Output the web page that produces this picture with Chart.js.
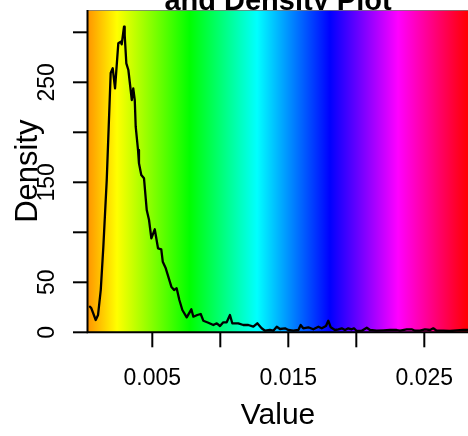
<!DOCTYPE html>
<html><head><meta charset="utf-8">
<script src="https://cdn.jsdelivr.net/npm/chart.js@4"></script>
<style>html,body{margin:0;padding:0;background:#fff;}canvas{display:block;}</style>
</head><body>
<canvas id="c" width="468" height="436"></canvas>
<script>
// ---- data ----
const xValues = [0.00042,0.00052,0.00084,0.00101,0.00121,0.00140,0.00165,0.00194,0.00209,0.00226,0.00250,0.00268,0.00275,0.00292,0.00297,0.00309,0.00324,0.00341,0.00349,0.00360,0.00371,0.00378,0.00395,0.00402,0.00419,0.00439,0.00459,0.00476,0.00493,0.00518,0.00542,0.00566,0.00577,0.00599,0.00640,0.00660,0.00679,0.00699,0.00721,0.00753,0.00770,0.00787,0.00802,0.00831,0.00856,0.00875,0.00912,0.00949,0.00974,0.00998,0.01022,0.01047,0.01071,0.01088,0.01132,0.01169,0.01206,0.01243,0.01272,0.01304,0.01329,0.01365,0.01390,0.01415,0.01439,0.01476,0.01500,0.01537,0.01574,0.01591,0.01610,0.01647,0.01684,0.01721,0.01746,0.01777,0.01794,0.01812,0.01843,0.01868,0.01893,0.01917,0.01941,0.01966,0.01983,0.02003,0.02040,0.02077,0.02101,0.02150,0.02199,0.02248,0.02297,0.02321,0.02371,0.02407,0.02432,0.02468,0.02505,0.02542,0.02566,0.02591,0.02640,0.02689,0.02738,0.02787,0.02821];
const densityValues = [25.6,24,12.3,17.3,42.3,85.6,152.3,259.3,264,244,289,290.6,288,305.6,297.3,269,262.3,242.3,232.3,244,232.3,205.6,182.3,169,157.3,154,122.3,112.3,94,103,84,83,70.6,64,45.6,42.3,44,32.3,22.3,15,19,23,15.6,17.3,18.3,11.6,9.6,7.3,9,6.3,10,10,17.3,9,9,7.3,7.3,5.6,9,4,1.6,2.3,1.6,5.6,3.3,4,2.3,1.6,2.3,7.3,4,5,3,5.6,4,6.3,11.6,5,2.3,3,4,2.3,4,3,4,1.3,1.6,4.6,2.3,1.6,2,2.3,2.3,1.6,3,3,1.6,1.6,3,2.3,4,1.6,1.6,1.3,2,2.3,2.3];
const xTickValues = [0.005,0.010,0.015,0.020,0.025];
const xTickLabels = ['0.005','','0.015','','0.025'];
const yTickValues = [0,50,100,150,200,250,300];
const yTickLabels = ['0','50','','150','','250',''];
const titleText = 'and Density Plot';
const xAxisTitle = 'Value';
const yAxisTitle = 'Density';
const xRange = [0.000272, 0.028213];
const yRange = [0, 322.3];

const FONT = '"Liberation Sans", Arial, Helvetica, sans-serif';

const decorPlugin = {
  id: 'decor',
  beforeDraw(chart) {
    const ctx = chart.ctx, a = chart.chartArea;
    ctx.save();
    ctx.fillStyle = '#fff';
    ctx.fillRect(0, 0, chart.width, chart.height);
    // title (first line lies above the visible area)
    ctx.fillStyle = '#000';
    ctx.font = 'bold 29px ' + FONT;
    ctx.textAlign = 'center';
    ctx.textBaseline = 'alphabetic';
    ctx.fillText(titleText, (a.left + a.right) / 2, 9.5);
    // rainbow background
    const g = ctx.createLinearGradient(a.left, 0, a.right, 0);
    g.addColorStop(0, 'rgb(255,150,0)');
    g.addColorStop(0.0763, 'rgb(255,255,0)');
    g.addColorStop(0.268, 'rgb(0,255,0)');
    g.addColorStop(0.445, 'rgb(0,255,255)');
    g.addColorStop(0.637, 'rgb(0,0,255)');
    g.addColorStop(0.816, 'rgb(255,0,255)');
    g.addColorStop(1, 'rgb(255,0,0)');
    ctx.fillStyle = g;
    ctx.fillRect(a.left, a.top, a.right - a.left, a.bottom - a.top);
    // thin grey top edge
    ctx.fillStyle = 'rgba(120,120,120,0.8)';
    ctx.fillRect(a.left, a.top, a.right - a.left, 1);
    ctx.restore();
  },
  afterDraw(chart) {
    const ctx = chart.ctx, a = chart.chartArea;
    const xs = chart.scales.x, ys = chart.scales.y;
    ctx.save();
    ctx.strokeStyle = '#000';
    ctx.fillStyle = '#000';
    ctx.lineWidth = 2;
    ctx.lineCap = 'butt';
    // L box
    ctx.beginPath();
    ctx.moveTo(a.left - 0.5, a.top);
    ctx.lineTo(a.left - 0.5, a.bottom);
    ctx.lineTo(a.right, a.bottom);
    ctx.stroke();
    // x ticks
    ctx.font = '23px ' + FONT;
    ctx.textAlign = 'center';
    ctx.textBaseline = 'alphabetic';
    xTickValues.forEach((v, i) => {
      const px = xs.getPixelForValue(v);
      ctx.beginPath();
      ctx.moveTo(px, a.bottom);
      ctx.lineTo(px, a.bottom + 15);
      ctx.stroke();
      if (xTickLabels[i]) ctx.fillText(xTickLabels[i], px, a.bottom + 52.5);
    });
    // y ticks
    yTickValues.forEach((v, i) => {
      const py = ys.getPixelForValue(v);
      ctx.beginPath();
      ctx.moveTo(a.left, py);
      ctx.lineTo(a.left - 15, py);
      ctx.stroke();
      if (yTickLabels[i]) {
        ctx.save();
        ctx.translate(a.left - 34.5, py);
        ctx.rotate(-Math.PI / 2);
        ctx.fillText(yTickLabels[i], 0, 0);
        ctx.restore();
      }
    });
    // axis titles
    ctx.font = '30px ' + FONT;
    ctx.fillText(xAxisTitle, (a.left + a.right) / 2, 424);
    ctx.save();
    ctx.font = '31px ' + FONT;
    ctx.translate(36.7, (a.top + a.bottom) / 2);
    ctx.rotate(-Math.PI / 2);
    ctx.fillText(yAxisTitle, 0, 0);
    ctx.restore();
    ctx.restore();
  }
};

new Chart(document.getElementById('c'), {
  type: 'line',
  data: {
    datasets: [{
      data: xValues.map((x, i) => ({ x: x, y: densityValues[i] })),
      borderColor: '#000',
      borderWidth: 2.3,
      borderJoinStyle: 'round',
      borderCapStyle: 'round',
      pointRadius: 0,
      tension: 0,
      fill: false
    }]
  },
  options: {
    responsive: false,
    animation: false,
    events: [],
    layout: { padding: { left: 88, right: 0, top: 10, bottom: 103.7 } },
    plugins: { legend: { display: false }, tooltip: { enabled: false }, title: { display: false } },
    scales: {
      x: { type: 'linear', min: xRange[0], max: xRange[1], display: false },
      y: { type: 'linear', min: yRange[0], max: yRange[1], display: false }
    }
  },
  plugins: [decorPlugin]
});
</script>
</body></html>
